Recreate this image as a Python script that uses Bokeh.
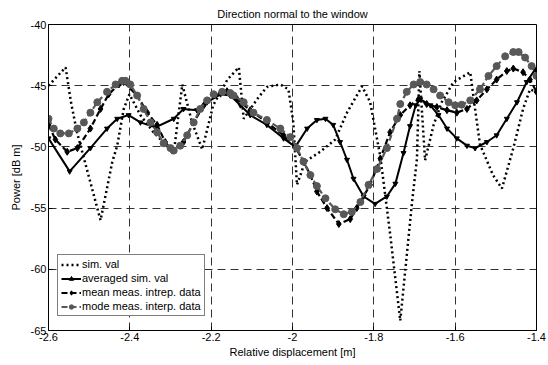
import math
from bokeh.plotting import figure
from bokeh.models import FixedTicker, Legend, LegendItem
from bokeh.embed import file_html
from bokeh.resources import INLINE

# ---- data ----
sim_x = [-2.600, -2.558, -2.545, -2.530, -2.497, -2.472, -2.443, -2.431, -2.415, -2.401,
         -2.374, -2.342, -2.292, -2.271, -2.247, -2.222, -2.195, -2.160, -2.132, -2.120,
         -2.087, -2.063, -2.030, -2.010, -1.998, -1.989, -1.969, -1.932, -1.895, -1.866,
         -1.829, -1.809, -1.784, -1.760, -1.735, -1.706, -1.694, -1.688, -1.674, -1.653,
         -1.633, -1.604, -1.563, -1.551, -1.539, -1.507, -1.485, -1.457, -1.433, -1.416,
         -1.401]
sim_y = [-45.0, -43.5, -46.3, -48.8, -52.9, -56.0, -51.2, -49.9, -46.9, -45.7,
         -47.4, -48.8, -50.5, -44.9, -48.0, -50.2, -46.6, -44.5, -43.5, -47.7,
         -46.1, -45.1, -44.9, -45.3, -48.0, -53.1, -51.2, -50.4, -49.4, -47.2,
         -45.05, -46.35, -50.8, -57.1, -64.2, -54.5, -51.0, -43.8, -51.1, -48.2,
         -46.35, -44.7, -43.9, -46.9, -49.8, -52.3, -53.4, -50.1, -46.9, -45.3,
         -45.5]

avg_x = [-2.600, -2.548, -2.497, -2.456, -2.431, -2.403, -2.374, -2.337, -2.292, -2.268,
         -2.235, -2.210, -2.177, -2.153, -2.128, -2.104, -2.063, -2.022, -1.993, -1.964,
         -1.940, -1.919, -1.900, -1.883, -1.866, -1.850, -1.825, -1.797, -1.768, -1.747,
         -1.727, -1.711, -1.697, -1.686, -1.661, -1.641, -1.620, -1.596, -1.571, -1.551,
         -1.522, -1.498, -1.473, -1.448, -1.424, -1.403]
avg_y = [-49.3, -52.0, -50.1, -48.5, -47.7, -47.4, -48.0, -48.4, -47.7, -46.9,
         -47.0, -46.35, -45.7, -45.8, -46.6, -47.4, -48.2, -49.3, -50.0, -48.5,
         -47.8, -47.7, -48.2, -49.6, -51.05, -52.6, -54.05, -54.65, -54.05, -53.0,
         -50.5, -48.3, -46.6, -46.1, -46.6, -47.4, -48.5, -49.3, -49.9, -50.1,
         -49.6, -49.05, -47.7, -46.35, -44.7, -43.65]

mean_x = [-2.600, -2.583, -2.554, -2.529, -2.497, -2.472, -2.452, -2.427, -2.415, -2.382,
          -2.357, -2.333, -2.313, -2.296, -2.268, -2.243, -2.218, -2.194, -2.161, -2.136,
          -2.104, -2.063, -2.022, -1.993, -1.973, -1.956, -1.940, -1.915, -1.886, -1.858,
          -1.842, -1.809, -1.784, -1.760, -1.735, -1.711, -1.690, -1.670, -1.645, -1.620,
          -1.596, -1.571, -1.547, -1.522, -1.498, -1.473, -1.457, -1.433, -1.416, -1.400]
mean_y = [-48.2, -49.4, -50.4, -50.1, -48.5, -46.9, -45.7, -44.9, -44.7, -45.8,
          -47.2, -48.2, -49.6, -50.3, -49.6, -48.0, -46.6, -45.8, -45.45, -46.1,
          -47.0, -48.0, -49.05, -50.0, -51.2, -52.3, -53.65, -55.0, -56.3, -55.9,
          -55.0, -53.1, -50.95, -48.8, -47.4, -46.6, -46.1, -46.5, -46.75, -47.0,
          -47.2, -46.9, -46.2, -45.3, -44.5, -43.8, -43.6, -43.9, -44.5, -45.5]

mode_x = [-2.600, -2.587, -2.571, -2.550, -2.529, -2.513, -2.497, -2.480, -2.456, -2.435,
          -2.419, -2.411, -2.399, -2.382, -2.366, -2.349, -2.333, -2.317, -2.300, -2.292,
          -2.276, -2.259, -2.243, -2.227, -2.210, -2.194, -2.173, -2.153, -2.145, -2.120,
          -2.096, -2.063, -2.030, -2.005, -1.989, -1.973, -1.956, -1.940, -1.919, -1.895,
          -1.874, -1.854, -1.833, -1.813, -1.792, -1.768, -1.743, -1.735, -1.719, -1.702,
          -1.686, -1.670, -1.653, -1.637, -1.616, -1.600, -1.584, -1.563, -1.539, -1.518,
          -1.498, -1.477, -1.457, -1.444, -1.428, -1.412, -1.400]
mode_y = [-47.7, -48.5, -48.9, -48.9, -48.5, -48.0, -47.2, -46.35, -45.5, -44.9,
          -44.6, -44.6, -44.9, -45.8, -46.9, -48.0, -48.8, -49.7, -50.1, -50.3,
          -49.9, -49.05, -48.0, -46.9, -46.2, -45.7, -45.5, -45.6, -45.8, -46.35,
          -47.2, -47.8, -48.5, -49.2, -50.1, -51.2, -52.3, -53.2, -54.2, -55.1,
          -55.5, -55.3, -54.5, -53.1, -51.8, -50.1, -47.7, -46.5, -45.5, -44.9,
          -44.7, -44.9, -45.3, -45.8, -46.35, -46.6, -46.55, -46.2, -45.3, -44.2,
          -43.4, -42.6, -42.25, -42.25, -42.7, -43.4, -44.2]

x_ticks = [-2.6, -2.4, -2.2, -2.0, -1.8, -1.6, -1.4]
x_tick_labels = ["-2.6", "-2.4", "-2.2", "-2", "-1.8", "-1.6", "-1.4"]
y_ticks = [-65, -60, -55, -50, -45, -40]
y_tick_labels = ["-65", "-60", "-55", "-50", "-45", "-40"]

series_labels = ["sim. val", "averaged sim. val", "mean meas. intrep. data", "mode meas. interp. data"]

FONT = "Liberation Sans"
GRAY = "#585858"

p = figure(width=548, height=365, x_range=(-2.6, -1.4), y_range=(-65, -40),
           output_backend="svg", toolbar_location=None,
           min_border_left=48, min_border_right=12, min_border_top=22, min_border_bottom=35,
           title="Direction normal to the window")
p.background_fill_color = "white"
p.border_fill_color = "white"
p.outline_line_color = "black"
p.outline_line_width = 1

p.title.text_font = FONT
p.title.text_font_size = "11px"
p.title.text_font_style = "normal"
p.title.text_color = "black"
p.title.align = "center"
p.title.offset = 0

for ax in (p.xaxis[0], p.yaxis[0]):
    ax.axis_line_color = "black"
    ax.major_tick_line_color = "black"
    ax.major_tick_in = 4
    ax.major_tick_out = 0
    ax.minor_tick_line_color = None
    ax.major_label_text_font = FONT
    ax.major_label_text_font_size = "11px"
    ax.major_label_text_color = "black"
    ax.axis_label_text_font = FONT
    ax.axis_label_text_font_size = "11px"
    ax.axis_label_text_font_style = "normal"
    ax.axis_label_text_color = "black"

p.xaxis.ticker = FixedTicker(ticks=x_ticks)
p.xaxis.major_label_overrides = {t: l for t, l in zip(x_ticks, x_tick_labels)}
p.yaxis.ticker = FixedTicker(ticks=y_ticks)
p.yaxis.major_label_overrides = {t: l for t, l in zip(y_ticks, y_tick_labels)}
p.xaxis.axis_label = "Relative displacement [m]"
p.yaxis.axis_label = "Power [dB m]"
p.xaxis.major_label_standoff = 2
p.xaxis.axis_label_standoff = 2
p.yaxis.major_label_standoff = 2
p.yaxis.axis_label_standoff = 6

for g in (p.xgrid[0], p.ygrid[0]):
    g.grid_line_color = "#333333"
    g.grid_line_dash = "8 5"
    g.grid_line_width = 1
    g.grid_line_alpha = 1.0

# sim. val : dotted
r_sim = p.line(sim_x, sim_y, line_color="black", line_width=2.5, line_dash="2 3")

# averaged sim val : solid with barbs
r_avg_l = p.line(avg_x, avg_y, line_color="black", line_width=2)
r_avg_m = p.scatter(avg_x, avg_y, marker="triangle", size=5, angle=-math.pi / 3,
                    fill_color="black", line_color="black")

# mean meas. : dashed with diamonds
r_mean_l = p.line(mean_x, mean_y, line_color="black", line_width=2.2, line_dash="6 3")
r_mean_m = p.scatter(mean_x, mean_y, marker="diamond", size=7,
                     fill_color="black", line_color="black")

# mode meas. : dashed gray with circles
r_mode_l = p.line(mode_x, mode_y, line_color=GRAY, line_width=2.2, line_dash="6 3")
r_mode_m = p.scatter(mode_x, mode_y, marker="circle", size=7,
                     fill_color=GRAY, line_color=GRAY)

legend = Legend(items=[
    LegendItem(label=series_labels[0], renderers=[r_sim]),
    LegendItem(label=series_labels[1], renderers=[r_avg_l, r_avg_m]),
    LegendItem(label=series_labels[2], renderers=[r_mean_l, r_mean_m]),
    LegendItem(label=series_labels[3], renderers=[r_mode_l, r_mode_m]),
], location=(9, 14))
legend.label_text_font = FONT
legend.label_text_font_size = "11px"
legend.label_text_color = "black"
legend.label_standoff = 1
legend.glyph_width = 20
legend.glyph_height = 11
legend.spacing = 2
legend.padding = 3
legend.margin = 0
legend.border_line_color = "black"
legend.border_line_width = 1
legend.background_fill_color = "white"
legend.background_fill_alpha = 1.0
legend.label_height = 11
p.add_layout(legend, "center")

open("out.html", "w").write(file_html(p, INLINE))
